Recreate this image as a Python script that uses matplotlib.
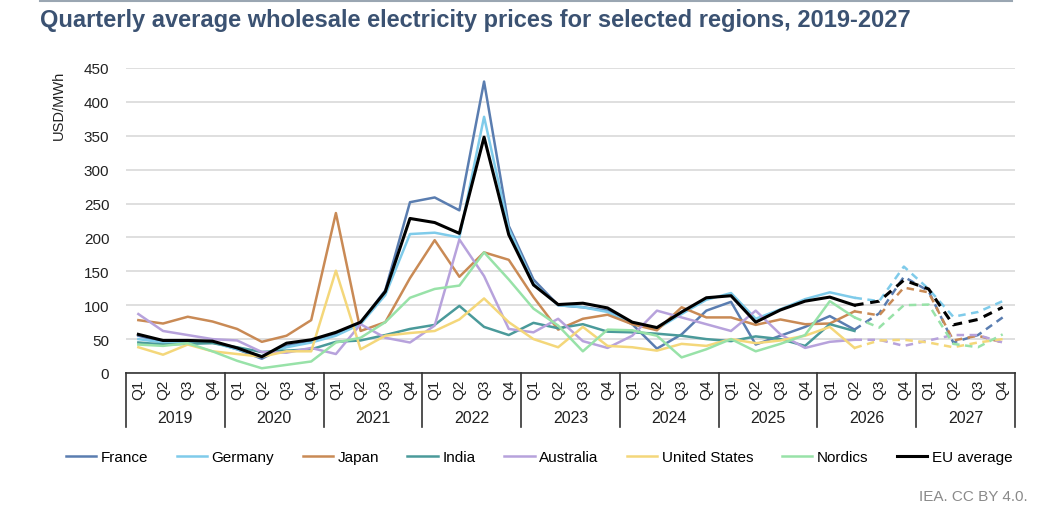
import numpy as np
import matplotlib
matplotlib.use("Agg")
import matplotlib.pyplot as plt
from matplotlib.lines import Line2D
import matplotlib.transforms as mtransforms

plt.rcParams['font.family'] = ['Liberation Sans', 'DejaVu Sans']

years = ['2019', '2020', '2021', '2022', '2023', '2024', '2025', '2026', '2027']
quarters = ['Q1', 'Q2', 'Q3', 'Q4']
last_actual = 29  # 2026 Q2: solid up to here, dashed afterwards

france = [55, 46, 46, 46, 35, 21, 40, 46, 58, 74, 122, 252, 259, 240, 430, 217, 138, 100, 97, 92,
          72, 36, 57, 92, 105, 42, 55, 68, 84, 64, 88, 142, 121, 45, 56, 82]
germany = [50, 45, 45, 45, 35, 25, 38, 45, 55, 72, 115, 205, 207, 200, 378, 213, 132, 100, 97, 90,
           72, 65, 87, 108, 118, 80, 94, 109, 119, 111, 106, 157, 124, 83, 90, 106]
japan = [78, 73, 83, 76, 65, 46, 55, 78, 236, 62, 75, 140, 196, 142, 178, 167, 112, 64, 80, 86,
         72, 63, 97, 82, 82, 71, 79, 72, 73, 91, 85, 126, 119, 48, 55, 45]
india = [45, 42, 43, 44, 38, 31, 33, 35, 46, 48, 56, 65, 71, 99, 68, 56, 74, 66, 72, 61,
         60, 58, 55, 50, 47, 54, 50, 40, 72, 62]
australia = [87, 62, 56, 50, 48, 31, 30, 37, 28, 72, 52, 45, 70, 197, 143, 65, 60, 80, 47, 37,
             55, 92, 82, 72, 62, 92, 57, 37, 46, 49, 49, 40, 48, 56, 56, 45]
united_states = [38, 27, 42, 32, 28, 24, 32, 32, 151, 35, 55, 59, 62, 79, 110, 75, 50, 38, 68, 40,
                 38, 33, 43, 40, 50, 44, 48, 55, 68, 37, 48, 49, 45, 38, 45, 50]
nordics = [42, 40, 44, 32, 18, 7, 12, 17, 45, 52, 75, 111, 124, 129, 178, 138, 95, 70, 32, 64,
           63, 55, 23, 35, 50, 32, 43, 56, 106, 82, 67, 100, 101, 43, 38, 57]
eu_average = [57, 48, 48, 47, 37, 24, 44, 49, 60, 75, 120, 228, 222, 206, 348, 204, 130, 101, 103, 96,
              75, 67, 90, 111, 114, 75, 93, 106, 112, 100, 106, 137, 124, 71, 79, 97]

series = [
    ('France', france, '#5a7db0', 1.8),
    ('Germany', germany, '#7fcbea', 1.8),
    ('Japan', japan, '#c98a55', 1.8),
    ('India', india, '#4a9a9a', 1.8),
    ('Australia', australia, '#b7a2dc', 1.8),
    ('United States', united_states, '#f4d77a', 1.8),
    ('Nordics', nordics, '#98e2a8', 1.8),
    ('EU average', eu_average, '#000000', 2.2),
]

fig = plt.figure(figsize=(10.49, 5.10), dpi=100)
ax = fig.add_axes([126/1049, 1-374/510, (1015-126)/1049, (374-69)/510])

handles = []
for name, vals, color, lw in series:
    v = np.array(vals, dtype=float)
    x = np.arange(len(v))
    n_solid = min(len(v), last_actual + 1)
    z = 3 if name == 'EU average' else 2
    ax.plot(x[:n_solid], v[:n_solid], color=color, lw=lw, zorder=z)
    if len(v) > last_actual + 1:
        ax.plot(x[last_actual:], v[last_actual:], color=color, lw=lw, ls=(0, (3, 2.2)), zorder=z)
    handles.append(Line2D([0], [0], color=color, lw=lw))

n = len(years) * 4
ax.set_xlim(-0.5, n - 0.5)
ax.set_ylim(0, 450)
ax.set_yticks(np.arange(0, 451, 50))
ax.tick_params(axis='y', length=0, labelsize=11, colors='#222222', pad=12)
ax.set_xticks([])
ax.grid(axis='y', color='#d9d9d9', lw=1.2)
ax.set_axisbelow(True)
for s in ['top', 'right', 'left']:
    ax.spines[s].set_visible(False)
ax.spines['bottom'].set_color('#333333')
ax.spines['bottom'].set_linewidth(1.2)

trans = mtransforms.blended_transform_factory(ax.transData, ax.transAxes)
for i in range(n):
    ax.text(i, -0.052, quarters[i % 4], rotation=90, ha='center', va='center',
            fontsize=11, color='#222222', transform=trans)
for k, yr in enumerate(years):
    ax.text(4 * k + 1.5, -0.146, yr, ha='center', va='center', fontsize=11.5,
            color='#222222', transform=trans)
for k in range(len(years) + 1):
    ax.add_line(Line2D([4 * k - 0.5] * 2, [0, -0.177], color='#333333', lw=1.2,
                       transform=trans, clip_on=False))

ax.set_ylabel('USD/MWh', fontsize=10.5, color='#222222')
ax.yaxis.set_label_coords(-0.068, 0.88)

fig.text(40/1049, 1-20/510, 'Quarterly average wholesale electricity prices for selected regions, 2019-2027',
         fontsize=17, fontweight='bold', color='#3b5272', ha='left', va='center')
fig.add_artist(Line2D([40/1049, 1012/1049], [1-2/510, 1-2/510], color='#9aa6b2', lw=1.5))
fig.text(1028/1049, 1-497/510, 'IEA. CC BY 4.0.', fontsize=11, color='#8a8a8a', ha='right', va='center')

fig.legend(handles, [s[0] for s in series], loc='center', bbox_to_anchor=(539/1049, 1-458/510),
           ncol=8, frameon=False, fontsize=11, handlelength=2.0, handletextpad=0.3,
           columnspacing=1.85)

fig.savefig('out.png', dpi=100, facecolor='white')
